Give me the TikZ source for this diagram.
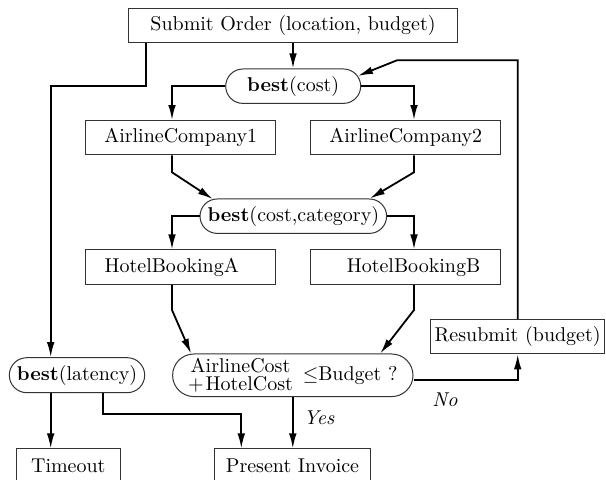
\documentclass[tikz,border=0pt]{standalone}
\usetikzlibrary{shapes.misc,arrows.meta}
\newcommand{\stacktwo}[2]{\vcenter{\baselineskip=8.8pt\lineskiplimit=-\maxdimen\halign{\hfil##\hfil\cr#1\cr#2\cr}}}
\begin{document}
\begin{tikzpicture}[x=0.5pt,y=-0.5pt,
  box/.style={draw=black!80,line width=0.5pt,rectangle,minimum height=17.2pt,inner sep=1pt},
  pill/.style={draw=black!80,line width=0.5pt,rounded rectangle,minimum height=17.2pt,inner sep=1pt},
  arr/.style={-{Latex[length=7.5pt,width=3.8pt]},line width=0.9pt},
  lbl/.style={inner sep=0pt,font=\itshape}]
\useasboundingbox (0,0) rectangle (606,480);

\node[box,minimum width=164.3pt] (sub) at (293,25.5) {Submit Order (location, budget)};
\node[pill,minimum width=69.5pt] (bc) at (293.2,86.2) {\textbf{best}(cost)};
\node[box,minimum width=95pt] (ac1) at (180.7,137.8) {AirlineCompany1};
\node[box,minimum width=95pt] (ac2) at (405.7,137.8) {AirlineCompany2};
\node[pill,minimum width=95.3pt] (bcc) at (293.3,216.2) {\textbf{best}(cost,category)};
\node[box,minimum width=95pt] (ha) at (180.7,267.2) {HotelBookingA\hspace*{9pt}};
\node[box,minimum width=95pt] (hb) at (405.5,267.2) {\hspace*{8pt}HotelBookingB};
\node[pill,minimum width=121.2pt,minimum height=21.3pt,inner sep=0.5pt] (dec) at (292.8,375.3)
  {$\stacktwo{AirlineCost}{$+$\kern1ptHotelCost}$\hspace*{4.9pt}$\leq$Budget ?};
\node[box,minimum width=87pt] (res) at (517.7,336.7) {Resubmit (budget)};
\node[pill,minimum width=69.7pt,minimum height=17.5pt] (bl) at (77,375.2) {\textbf{best}(latency)};
\node[box,minimum width=51.7pt] (to) at (68.3,466.2) {Timeout};
\node[box,minimum width=77.8pt] (pi) at (292.5,466.2) {Present Invoice};

\node[lbl] (yes) at (319,418) {Yes};
\node[lbl] (no) at (445,400) {No};

\coordinate (k1) at (145.7,86);
\coordinate (k2) at (50.7,86);
\coordinate (cl) at (172,86);
\coordinate (cr) at (414,86);
\coordinate (al) at (172,172.3);
\coordinate (ar) at (414,172.3);
\coordinate (hl) at (172,310);
\coordinate (hr) at (414,310);
\coordinate (m1) at (102.7,414);
\coordinate (m2) at (241.3,414);
\coordinate (f2) at (397,60.3);
\coordinate (nr) at (517.7,380);

\draw[arr] (sub.south) -- (sub.south |- bc.north);
\draw[arr] (sub.south -| k1) -- (k1) -- (k2) -- (k2 |- bl.north);
\draw[arr] (bc.west) -| (cl |- ac1.north);
\draw[arr] (bc.east) -| (cr |- ac2.north);
\draw[arr] (cl |- ac1.south) -- (al) -- (bcc.168);
\draw[arr] (cr |- ac2.south) -- (ar) -- (bcc.13);
\draw[arr] (bcc.west) -| (cl |- ha.north);
\draw[arr] (bcc.east) -| (cr |- hb.north);
\draw[arr] (cl |- ha.south) -- (hl) -- (dec.168);
\draw[arr] (cr |- hb.south) -- (hr) -- (dec.14);
\draw[arr] (dec.south) -- (dec.south |- pi.north);
\draw[arr] (dec.east |- nr) -- (nr) -- (res.south);
\draw[arr] (res.north) -- (res.north |- f2) -- (f2) -- (bc.9);
\draw[arr] (k2 |- bl.south) -- (k2 |- to.north);
\draw[arr] (m1 |- bl.south) -- (m1) -- (m2) -- (m2 |- pi.north);
\end{tikzpicture}
\end{document}
